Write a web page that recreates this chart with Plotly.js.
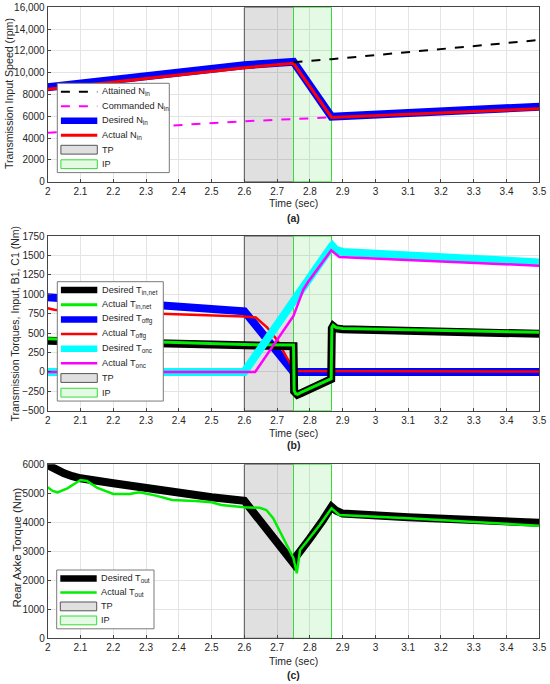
<!DOCTYPE html>
<html><head><meta charset="utf-8">
<script src="https://cdn.plot.ly/plotly-3.0.1.min.js"></script>
<style>html,body{margin:0;padding:0;background:#fff}#chart{width:550px;height:684px}</style>
</head><body><div id="chart"></div>
<script>
// ---------- phases ----------
const tpStart = 2.6, tpEnd = 2.75, ipStart = 2.75, ipEnd = 2.866;
const timeRange = [2, 3.5];

// ---------- panel (a): input speed (rpm) ----------
const rangeA = [0, 16000];
const tickValsA = [0, 2000, 4000, 6000, 8000, 10000, 12000, 14000, 16000];
const tickTextA = ["0", "2000", "4000", "6000", "8000", "10,000", "12,000", "14,000", "16,000"];
const tNin = [2.0, 2.6, 2.75, 2.866, 3.5];
const desiredNin = [8660, 10680, 11000, 5960, 6880];
const actualNin = [8480, 10460, 10860, 5900, 6700];
const tAttained = [2.75, 2.866, 3.5];
const attainedNin = [10950, 11240, 13000];
const tCommanded = [2.0, 2.3, 2.6, 2.75, 2.866];
const commandedNin = [4500, 5050, 5540, 5750, 5900];

// ---------- panel (b): torques (Nm) ----------
const rangeB = [-500, 1750];
const tTin = [2.0, 2.3, 2.6, 2.75, 2.752, 2.756, 2.762, 2.775, 2.862, 2.865, 2.867, 2.871, 2.88, 2.9, 3.5];
const desiredTin = [400, 368, 335, 330, -250, -285, -295, -270, -110, -95, 560, 590, 560, 550, 490];
const actualTin = [428, 390, 352, 345, -240, -278, -288, -262, -102, -88, 570, 600, 572, 560, 510];
const tToffg = [2.0, 2.6, 2.75, 3.5];
const desiredToffg = [960, 780, 0, 0];
const tToffgAct = [2.0, 2.02, 2.05, 2.1, 2.3, 2.5, 2.6, 2.635, 2.67, 2.7, 2.73, 2.755, 3.5];
const actualToffg = [820, 800, 785, 775, 755, 730, 713, 700, 570, 410, 180, 10, 5];
const tTonc = [2.0, 2.6, 2.865, 2.868, 2.88, 2.9, 3.5];
const desiredTonc = [0, 0, 1610, 1625, 1570, 1545, 1410];
const tToncAct = [2.0, 2.633, 2.75, 2.765, 2.78, 2.795, 2.82, 2.865, 2.875, 2.89, 3.5];
const actualTonc = [0, 0, 720, 900, 1060, 1160, 1300, 1565, 1530, 1480, 1368];

// ---------- panel (c): rear axle torque (Nm) ----------
const rangeC = [0, 6000];
const tToutDes = [2.0, 2.025, 2.05, 2.075, 2.1, 2.2, 2.3, 2.4, 2.5, 2.6, 2.75, 2.76, 2.77, 2.8, 2.84, 2.866, 2.88, 2.9, 3.1, 3.5];
const desiredTout = [5976, 5820, 5690, 5590, 5517, 5345, 5172, 5021, 4862, 4740, 2586, 2850, 2987, 3448, 4079, 4538, 4400, 4300, 4172, 3985];
const tToutAct = [2.0, 2.015, 2.03, 2.06, 2.1, 2.12, 2.15, 2.2, 2.25, 2.28, 2.33, 2.38, 2.45, 2.5, 2.53, 2.6, 2.647, 2.667, 2.688, 2.708, 2.729, 2.75, 2.76, 2.77, 2.79, 2.83, 2.866, 2.876, 2.89, 3.1, 3.5];
const actualTout = [5207, 5080, 5034, 5172, 5459, 5425, 5195, 4976, 4976, 5034, 4920, 4769, 4735, 4690, 4597, 4517, 4500, 4424, 4138, 3676, 3217, 2759, 2241, 3045, 3331, 3907, 4483, 4400, 4252, 4138, 3880];

// ---------- helpers ----------
const FONT = "Liberation Sans, Arial, sans-serif";
const W = 550, H = 684;
const TPfill = 'rgba(0,0,0,0.12)', TPedge = '#555555';
const IPfill = 'rgba(0,210,0,0.10)', IPedge = '#33dd33';

function rect(x0, x1, yr, name, fill, edge, xa, ya, rank) {
  return {x: [x0, x1, x1, x0, x0], y: [yr[0], yr[0], yr[1], yr[1], yr[0]], type: 'scatter', mode: 'lines',
    fill: 'toself', fillcolor: fill, line: {color: edge, width: 1}, name: name, showlegend: false,
    xaxis: xa, yaxis: ya, hoverinfo: 'skip', _patch: true, _rank: rank};
}
function line(x, y, name, color, width, dash, xa, ya, rank) {
  return {x: x, y: y, type: 'scatter', mode: 'lines', name: name, showlegend: false,
    line: {color: color, width: width, dash: dash || 'solid'},
    xaxis: xa, yaxis: ya, _rank: rank};
}

const traces = [
  // (a)
  rect(tpStart, tpEnd, rangeA, 'TP', TPfill, TPedge, 'x', 'y', 5),
  rect(ipStart, ipEnd, rangeA, 'IP', IPfill, IPedge, 'x', 'y', 6),
  line(tNin, desiredNin, 'Desired N<sub>in</sub>', '#0000ff', 8, null, 'x', 'y', 3),
  line(tNin, actualNin, 'Actual N<sub>in</sub>', '#ff0000', 3, null, 'x', 'y', 4),
  line(tAttained, attainedNin, 'Attained N<sub>in</sub>', '#000000', 2, 'dash', 'x', 'y', 1),
  line(tCommanded, commandedNin, 'Commanded N<sub>in</sub>', '#ff00ff', 2, 'dash', 'x', 'y', 2),
  // (b)
  rect(tpStart, tpEnd, rangeB, 'TP', TPfill, TPedge, 'x2', 'y2', 7),
  rect(ipStart, ipEnd, rangeB, 'IP', IPfill, IPedge, 'x2', 'y2', 8),
  line(tToffg, desiredToffg, 'Desired T<sub>offg</sub>', '#0000ff', 8, null, 'x2', 'y2', 3),
  line(tToffgAct, actualToffg, 'Actual T<sub>offg</sub>', '#ff0000', 2.5, null, 'x2', 'y2', 4),
  line(tTin, desiredTin, 'Desired T<sub>in,net</sub>', '#000000', 8, null, 'x2', 'y2', 1),
  line(tTin, actualTin, 'Actual T<sub>in,net</sub>', '#00ee00', 3, null, 'x2', 'y2', 2),
  line(tTonc, desiredTonc, 'Desired T<sub>onc</sub>', '#00ffff', 8, null, 'x2', 'y2', 5),
  line(tToncAct, actualTonc, 'Actual T<sub>onc</sub>', '#ff00ff', 2.5, null, 'x2', 'y2', 6),
  // (c)
  rect(tpStart, tpEnd, rangeC, 'TP', TPfill, TPedge, 'x3', 'y3', 3),
  rect(ipStart, ipEnd, rangeC, 'IP', IPfill, IPedge, 'x3', 'y3', 4),
  line(tToutDes, desiredTout, 'Desired T<sub>out</sub>', '#000000', 8, null, 'x3', 'y3', 1),
  line(tToutAct, actualTout, 'Actual T<sub>out</sub>', '#00ee00', 2.5, null, 'x3', 'y3', 2)
];

const xDom = [47.7 / W, 539.3 / W];
const yDomA = [1 - 181.7 / H, 1 - 7.3 / H];
const yDomB = [1 - 410.7 / H, 1 - 236 / H];
const yDomC = [1 - 638.3 / H, 1 - 464.3 / H];

const tickFont = {family: FONT, size: 10, color: '#262626'};
function xax(anchor) {
  return {domain: xDom, anchor: anchor, range: timeRange, tick0: 2, dtick: 0.1, showline: true, mirror: true,
    linecolor: '#444', linewidth: 1, ticks: 'inside', ticklen: 3, tickcolor: '#444', showgrid: true,
    gridcolor: '#e4e4e4', zeroline: false, tickfont: tickFont, fixedrange: true};
}
function yax(anchor, dom, range, extra) {
  return Object.assign({domain: dom, anchor: anchor, range: range, showline: true, mirror: true,
    linecolor: '#444', linewidth: 1, ticks: 'inside', ticklen: 3, tickcolor: '#444', showgrid: true,
    gridcolor: '#e4e4e4', zeroline: false, tickfont: tickFont, fixedrange: true}, extra || {});
}

const ann = [], shapes = [];
const px = v => v / W, py = v => 1 - v / H;
function txt(text, xPx, yPx, opts) {
  ann.push(Object.assign({text: text, x: px(xPx), y: py(yPx), xref: 'paper', yref: 'paper',
    showarrow: false, xanchor: 'center', yanchor: 'middle', font: {family: FONT, size: 10.5, color: '#262626'}}, opts || {}));
}

// MATLAB-style boxed legend for each panel, built from that panel's traces
function legendBox(xa, left, top, width, step) {
  const items = traces.filter(t => t.xaxis === xa).sort((a, b) => a._rank - b._rank);
  const pad = 8.4;
  const bottom = top + 2 * pad + (items.length - 1) * step;
  shapes.push({type: 'rect', xref: 'paper', yref: 'paper', x0: px(left), x1: px(left + width),
    y0: py(bottom), y1: py(top), fillcolor: '#ffffff', line: {color: '#7a7a7a', width: 1}, layer: 'above'});
  items.forEach((t, i) => {
    const yc = top + pad + i * step;
    const s0 = left + 3.6, s1 = left + 40;
    if (t._patch) {
      shapes.push({type: 'rect', xref: 'paper', yref: 'paper', x0: px(s0), x1: px(s1), y0: py(yc + 4.4), y1: py(yc - 4.4),
        fillcolor: t.fillcolor, line: {color: t.line.color, width: 1}, layer: 'above'});
    } else {
      shapes.push({type: 'line', xref: 'paper', yref: 'paper', x0: px(s0), x1: px(s1), y0: py(yc), y1: py(yc),
        line: {color: t.line.color, width: Math.min(t.line.width, 6.5), dash: t.line.dash}, layer: 'above'});
    }
    txt(t.name, left + 42.6, yc, {xanchor: 'left', font: {family: FONT, size: 9.2, color: '#262626'}});
  });
}
legendBox('x', 57.3, 83.3, 112, 14.5);
legendBox('x2', 57.3, 281.7, 106, 14.65);
legendBox('x3', 56.7, 570, 97.3, 14.0);

const xc = (47.7 + 539.3) / 2;
txt('Time (sec)', xc, 203);
txt('<b>(a)</b>', xc, 218);
txt('Time (sec)', xc, 432.7);
txt('<b>(b)</b>', xc, 445);
txt('Time (sec)', xc, 661);
txt('<b>(c)</b>', xc, 675.3);
txt('Transmission Input Speed (rpm)', 8.5, (17 + 170) / 2, {textangle: -90, font: {family: FONT, size: 10.6, color: '#262626'}});
txt('Transmission Torques, Input, B1, C1 (Nm)', 14.5, 324, {textangle: -90, font: {family: FONT, size: 10.5, color: '#262626'}});
txt('Rear Axke Torque (Nm)', 16, 547.5, {textangle: -90, font: {family: FONT, size: 11.5, color: '#262626'}});

const layout = {
  width: W, height: H, margin: {l: 0, r: 0, t: 0, b: 0}, paper_bgcolor: '#fff', plot_bgcolor: '#fff',
  font: {family: FONT, size: 10, color: '#262626'}, showlegend: false,
  xaxis: xax('y'), xaxis2: xax('y2'), xaxis3: xax('y3'),
  yaxis: yax('x', yDomA, rangeA, {tickvals: tickValsA, ticktext: tickTextA}),
  yaxis2: yax('x2', yDomB, rangeB, {dtick: 250, tick0: 0}),
  yaxis3: yax('x3', yDomC, rangeC, {dtick: 1000, tick0: 0}),
  annotations: ann, shapes: shapes
};
Plotly.newPlot('chart', traces, layout, {displayModeBar: false, staticPlot: true});
</script></body></html>
